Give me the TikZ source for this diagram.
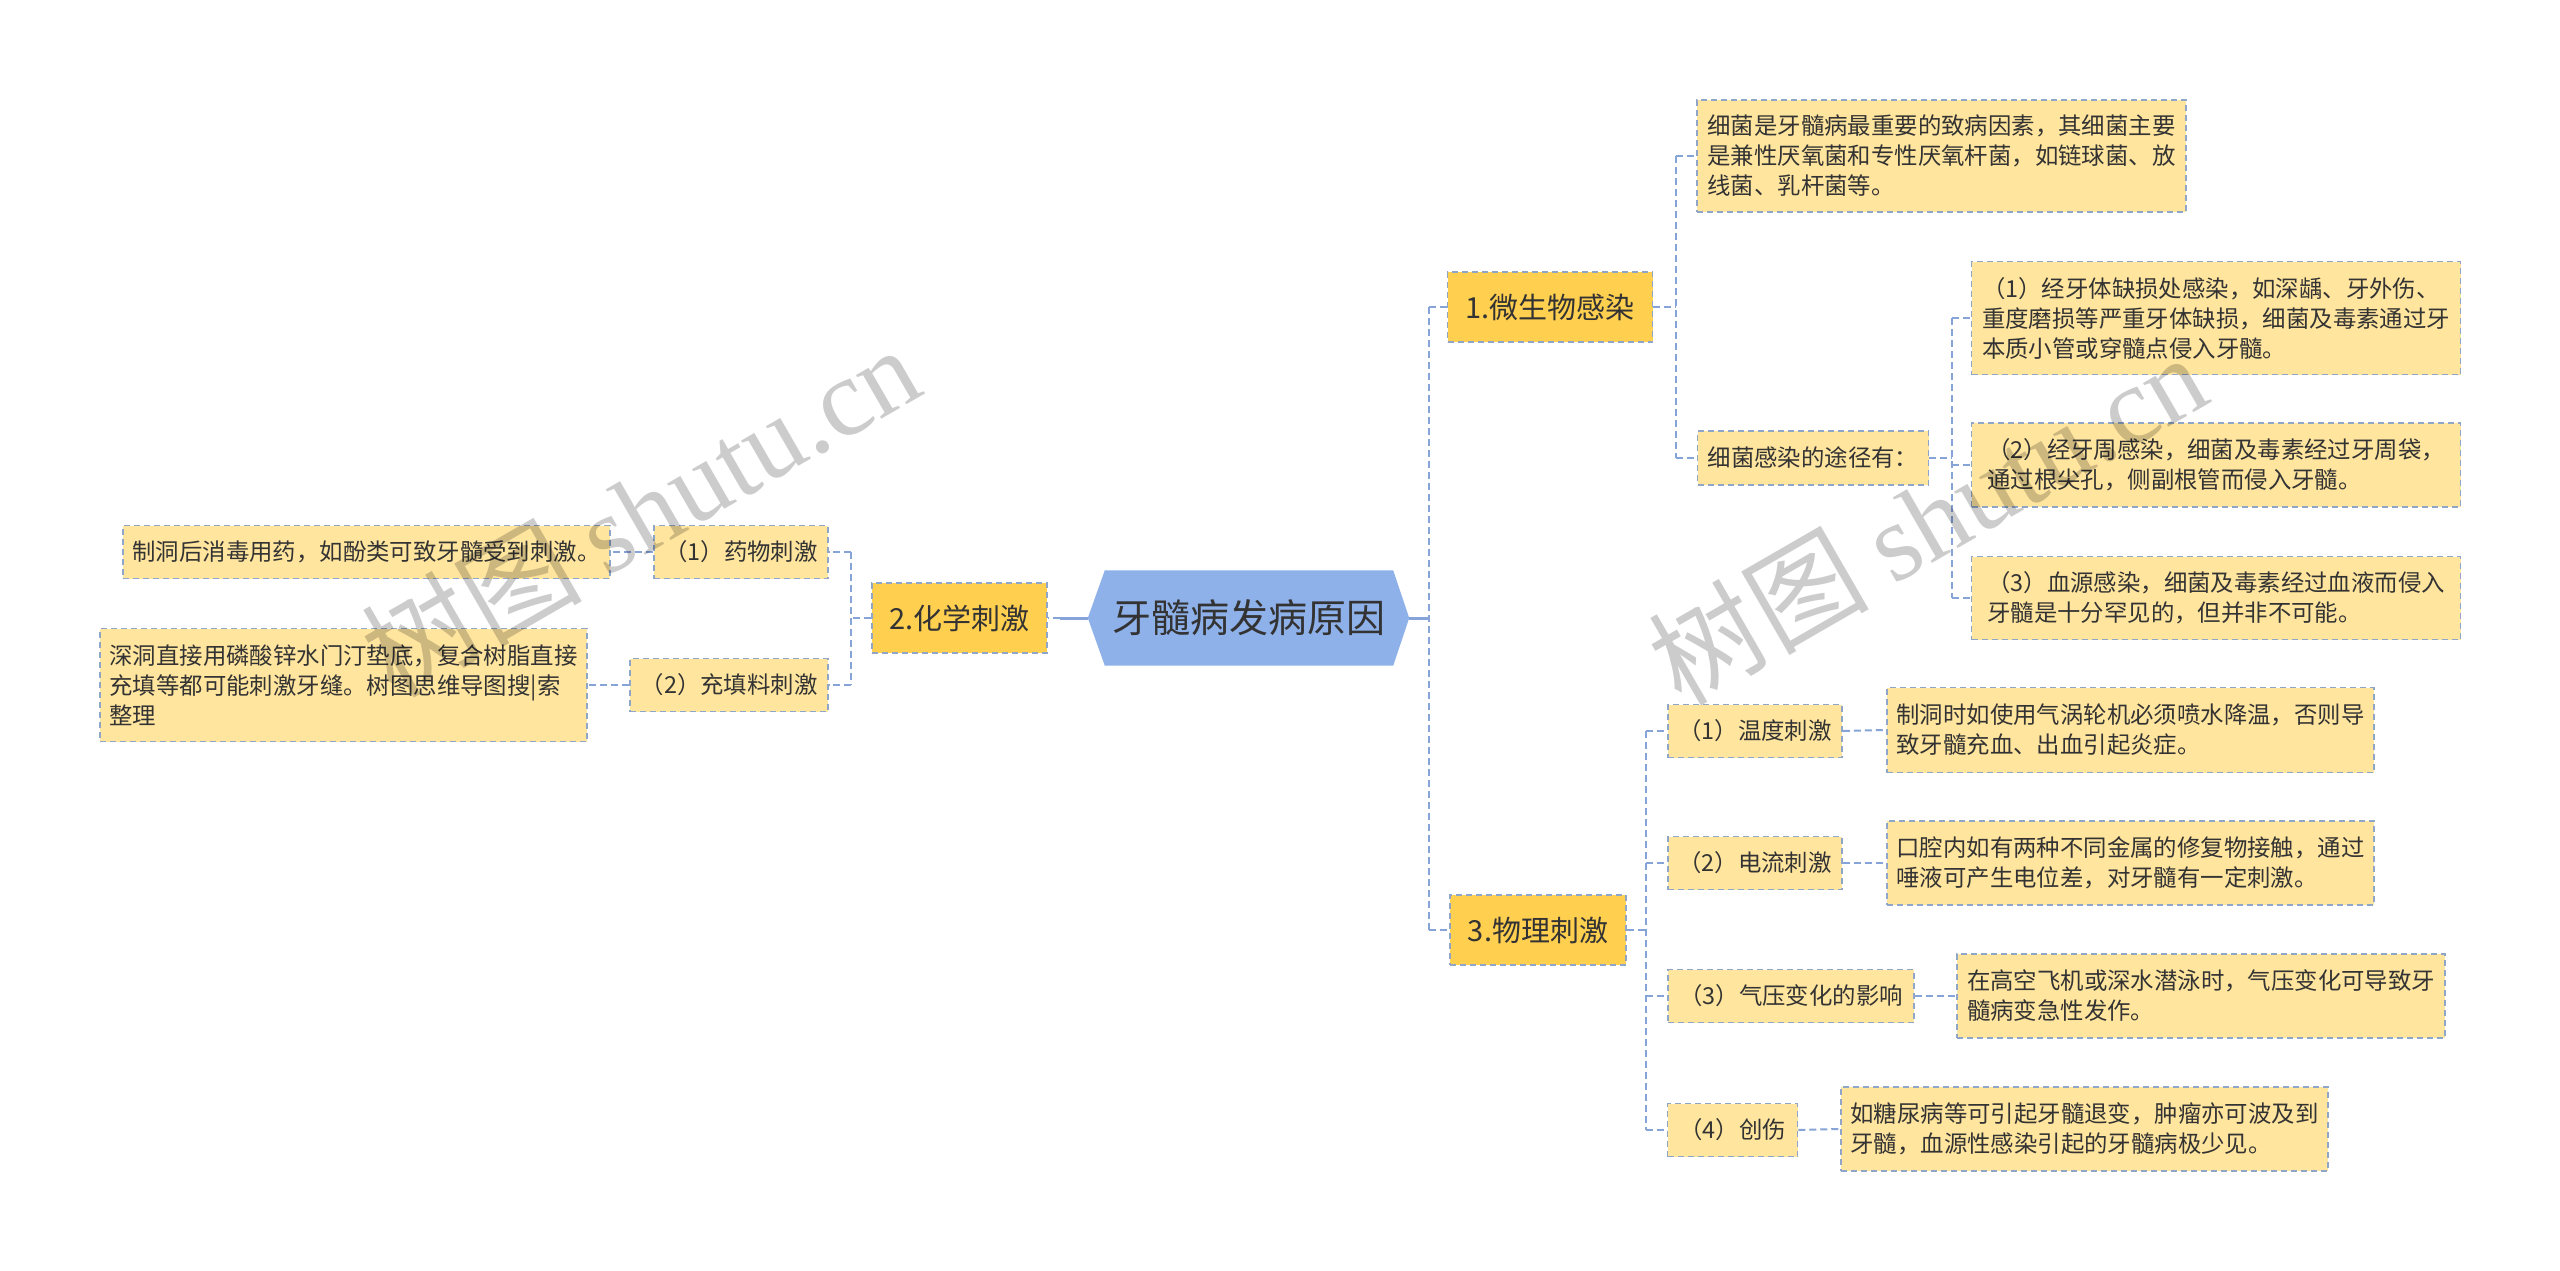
\documentclass[tikz,border=0pt]{standalone}
\usepackage{fontspec}
\setmainfont{Noto Sans CJK SC}
\newfontfamily\wmlatin{Liberation Serif}
\usetikzlibrary{backgrounds}
\definecolor{hexfill}{HTML}{8EB1EA}
\definecolor{goldfill}{HTML}{FFCF50}
\definecolor{paleyellow}{HTML}{FFE59E}
\definecolor{boxline}{HTML}{8FA6C9}
\definecolor{linkblue}{HTML}{86A4D8}
\definecolor{inktext}{HTML}{333333}
\tikzset{
  basebox/.style={draw=boxline, line width=1.5pt, dash pattern=on 6pt off 4pt, text=inktext, inner sep=0pt, align=left},
  mainbox/.style={basebox, fill=goldfill, font=\fontsize{29}{36}\selectfont},
  subbox/.style={basebox, fill=paleyellow, font=\fontsize{23.4}{30}\selectfont},
  rootnode/.style={inner sep=0pt, text=inktext, font=\fontsize{39}{46}\selectfont},
  link/.style={draw=linkblue, line width=2pt, dash pattern=on 7pt off 4pt},
  linksolid/.style={draw=linkblue, line width=3pt},
  watermark/.style={rotate=30, text=black, opacity=0.2, font=\fontsize{110}{120}\selectfont}
}
\begin{document}
\begin{tikzpicture}[x=1pt,y=-1pt]
\useasboundingbox (0,0) rectangle (2560,1270);

% root
\node[rootnode, minimum width=321pt, minimum height=95pt] (root) at (1248.5,618) {牙髓病发病原因};
\begin{scope}[on background layer]
\fill[white] (0,0) rectangle (2560,1270);
\fill[hexfill] (root.west) -- ([xshift=17pt]root.north west) -- ([xshift=-16pt]root.north east) -- (root.east) -- ([xshift=-16pt]root.south east) -- ([xshift=17pt]root.south west) -- cycle;
\end{scope}

% level 1
\node[mainbox, minimum width=205pt, minimum height=70pt] (n1) at (1550,307) {1.微生物感染};
\node[mainbox, minimum width=175pt, minimum height=70pt] (n2) at (959.5,618) {2.化学刺激};
\node[mainbox, minimum width=176pt, minimum height=70pt] (n3) at (1538,930) {3.物理刺激};

% branch 1
\node[subbox, minimum width=489pt, minimum height=112pt] (a1) at (1941.5,156) {细菌是牙髓病最重要的致病因素，其细菌主要\\是兼性厌氧菌和专性厌氧杆菌，如链球菌、放\\线菌、乳杆菌等。};
\node[subbox, minimum width=231pt, minimum height=54pt] (a2) at (1813,458) {细菌感染的途径有：};
\node[subbox, minimum width=489pt, minimum height=113pt] (b1) at (2216,318) {（1）经牙体缺损处感染，如深龋、牙外伤、\\重度磨损等严重牙体缺损，细菌及毒素通过牙\\本质小管或穿髓点侵入牙髓。};
\node[subbox, minimum width=489pt, minimum height=84pt] (b2) at (2216,465) {（2）经牙周感染，细菌及毒素经过牙周袋，\\通过根尖孔，侧副根管而侵入牙髓。};
\node[subbox, minimum width=489pt, minimum height=83pt] (b3) at (2216,598) {（3）血源感染，细菌及毒素经过血液而侵入\\牙髓是十分罕见的，但并非不可能。};

% branch 3
\node[subbox, minimum width=174pt, minimum height=53pt] (c1) at (1755,731) {（1）温度刺激};
\node[subbox, minimum width=487pt, minimum height=85pt] (d1) at (2130.5,730) {制洞时如使用气涡轮机必须喷水降温，否则导\\致牙髓充血、出血引起炎症。};
\node[subbox, minimum width=174pt, minimum height=53pt] (c2) at (1755,863) {（2）电流刺激};
\node[subbox, minimum width=487pt, minimum height=84pt] (d2) at (2130.5,863) {口腔内如有两种不同金属的修复物接触，通过\\唾液可产生电位差，对牙髓有一定刺激。};
\node[subbox, minimum width=246pt, minimum height=53pt] (c3) at (1791,996) {（3）气压变化的影响};
\node[subbox, minimum width=488pt, minimum height=84pt] (d3) at (2201,996) {在高空飞机或深水潜泳时，气压变化可导致牙\\髓病变急性发作。};
\node[subbox, minimum width=130pt, minimum height=53pt] (c4) at (1732.5,1130) {（4）创伤};
\node[subbox, minimum width=487pt, minimum height=84pt] (d4) at (2084.5,1129) {如糖尿病等可引起牙髓退变，肿瘤亦可波及到\\牙髓，血源性感染引起的牙髓病极少见。};

% branch 2
\node[subbox, minimum width=174pt, minimum height=53pt] (e1) at (741,552) {（1）药物刺激};
\node[subbox, minimum width=487pt, minimum height=53pt] (f1) at (366.5,552) {制洞后消毒用药，如酚类可致牙髓受到刺激。};
\node[subbox, minimum width=198pt, minimum height=53pt] (e2) at (729,685) {（2）充填料刺激};
\node[subbox, minimum width=487pt, minimum height=113pt] (f2) at (343.5,685) {深洞直接用磷酸锌水门汀垫底，复合树脂直接\\充填等都可能刺激牙缝。树图思维导图搜|索\\整理};

% spine coordinates
\coordinate (sR) at (1429,0);
\coordinate (sL) at (851,0);
\coordinate (sA) at (1676,0);
\coordinate (sB) at (1952,0);
\coordinate (sC) at (1646,0);
\coordinate (rootL) at ([xshift=-28pt]root.west);

% root connectors
\draw[linksolid] (root.east) -- (root.east -| sR);
\draw[link] (n1.west -| sR) -- (n3.west -| sR);
\draw[link] (n1.west -| sR) -- (n1.west);
\draw[link] (n3.west -| sR) -- (n3.west);
\draw[linksolid] (root.west) -- (rootL);
\draw[link] (rootL) -- (n2.east);

% branch 2 connectors
\draw[link] (n2.west) -- (n2.west -| sL);
\draw[link] (e1.east -| sL) -- (e2.east -| sL);
\draw[link] (e1.east -| sL) -- (e1.east);
\draw[link] (e2.east -| sL) -- (e2.east);
\draw[link] (e1.west) -- (f1.east);
\draw[link] (e2.west) -- (f2.east);

% branch 1 connectors
\draw[link] (n1.east) -- (n1.east -| sA);
\draw[link] (a1.west -| sA) -- (a2.west -| sA);
\draw[link] (a1.west -| sA) -- (a1.west);
\draw[link] (a2.west -| sA) -- (a2.west);
\draw[link] (a2.east) -- (a2.east -| sB);
\draw[link] (b1.west -| sB) -- (b3.west -| sB);
\draw[link] (b1.west -| sB) -- (b1.west);
\draw[link] (b2.west -| sB) -- (b2.west);
\draw[link] (b3.west -| sB) -- (b3.west);

% branch 3 connectors
\draw[link] (n3.east) -- (n3.east -| sC);
\draw[link] (c1.west -| sC) -- (c4.west -| sC);
\draw[link] (c1.west -| sC) -- (c1.west);
\draw[link] (c2.west -| sC) -- (c2.west);
\draw[link] (c3.west -| sC) -- (c3.west);
\draw[link] (c4.west -| sC) -- (c4.west);
\draw[link] (c1.east) -- (d1.west);
\draw[link] (c2.east) -- (d2.west);
\draw[link] (c3.east) -- (d3.west);
\draw[link] (c4.east) -- (d4.west);

% watermarks
\node[watermark] (wm1) at (640,510) {树图 {\wmlatin shutu.cn}};
\node[watermark] (wm2) at (1927,518) {树图 {\wmlatin shutu.cn}};
\end{tikzpicture}
\end{document}
